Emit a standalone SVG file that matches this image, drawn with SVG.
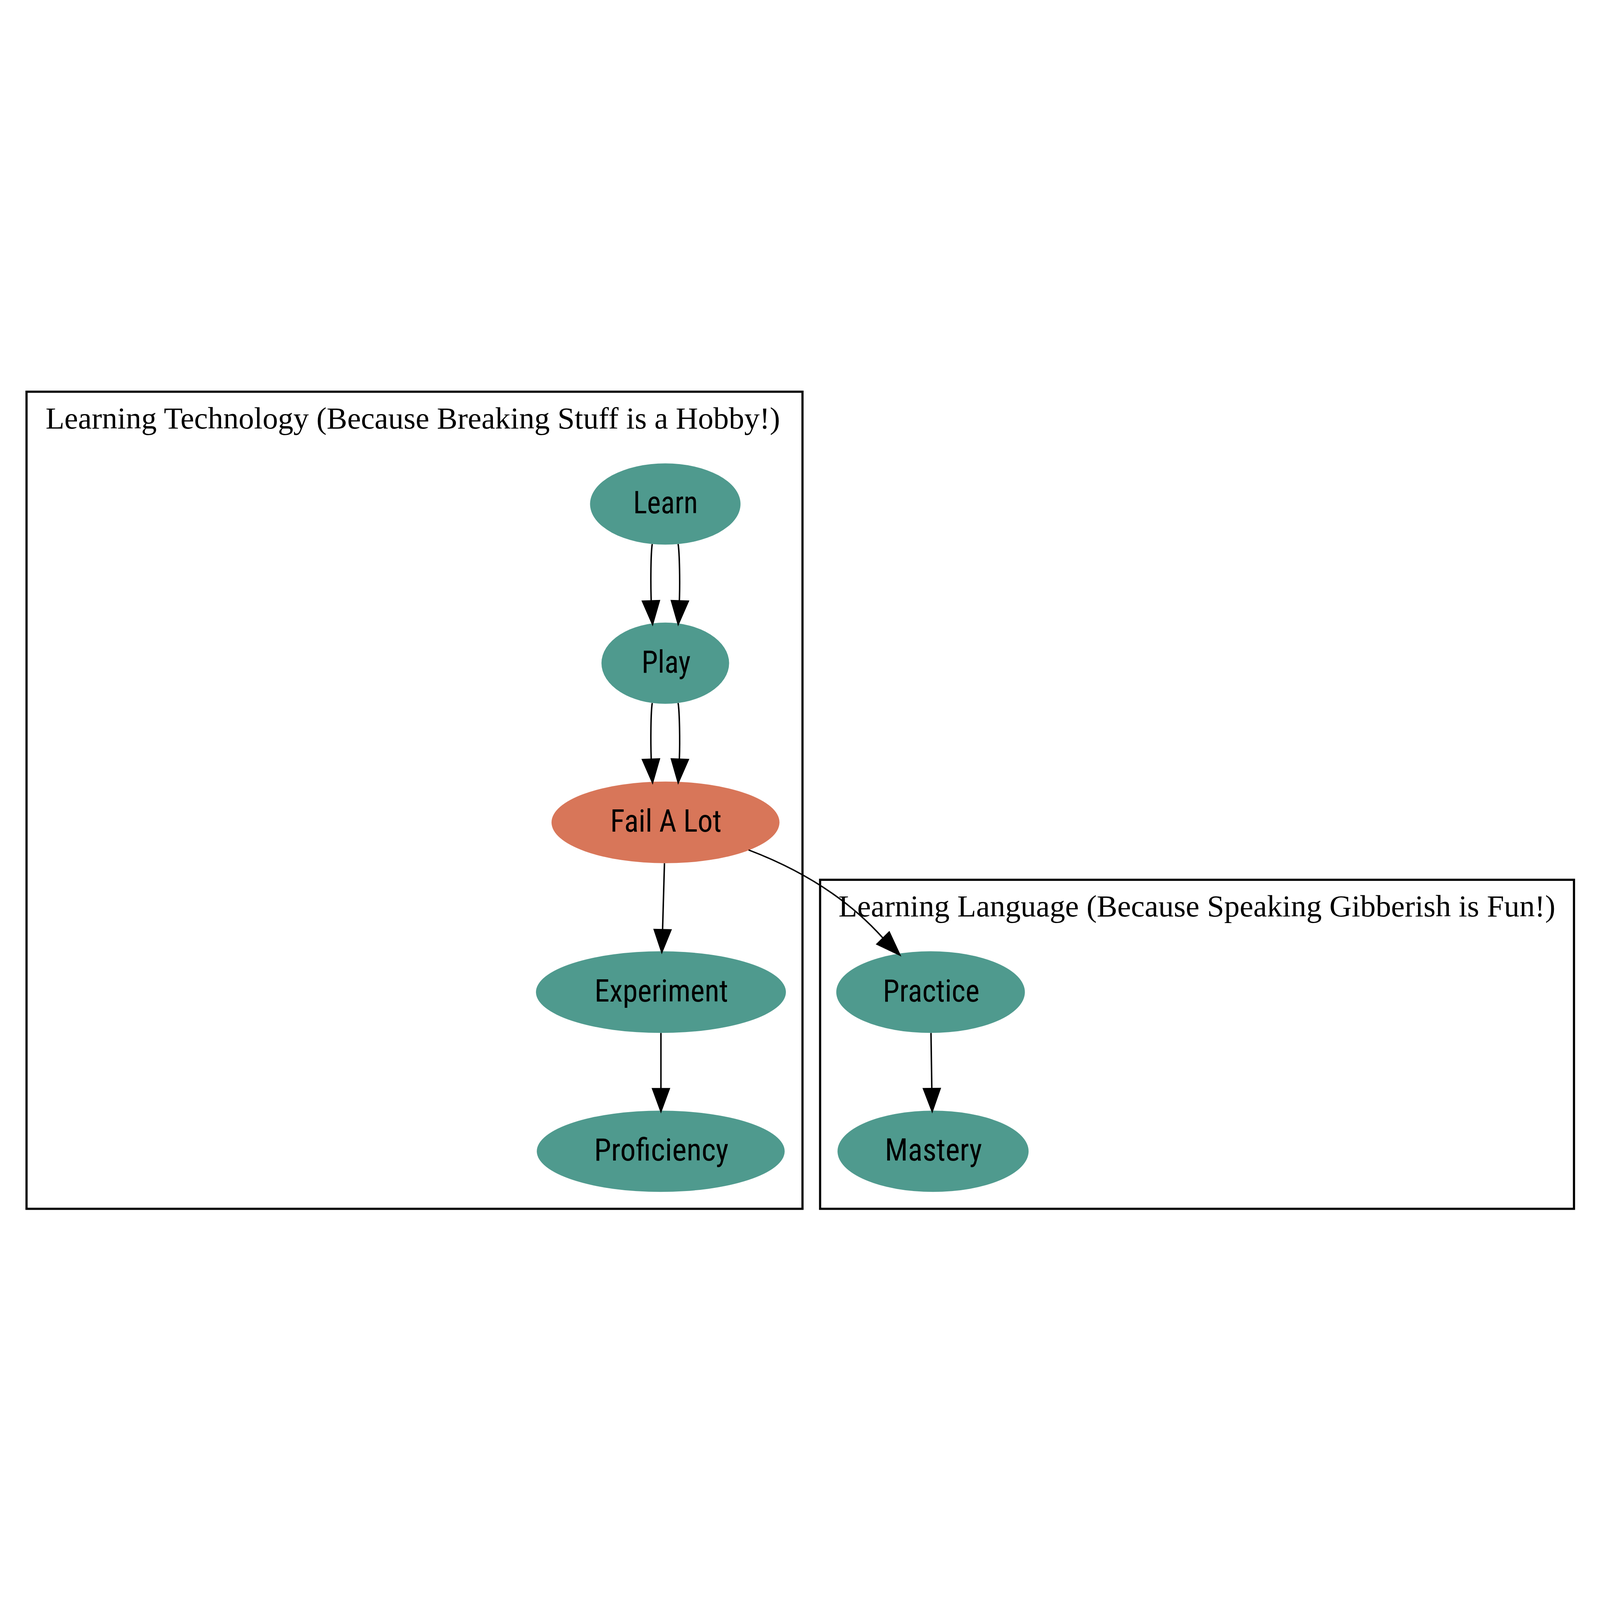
<svg xmlns="http://www.w3.org/2000/svg" width="7720" height="4200" viewBox="0 0 7720 4200" style="width:100%;height:100%">
<style>
.bg{fill:#ffffff}
.cluster{fill:none;stroke:#000;stroke-width:10.5}
.ctitle{font-family:"Liberation Serif","Times New Roman",serif;font-size:148px;fill:#000;text-anchor:middle}
.teal{fill:#4f9a8e;stroke:none}
.orange{fill:#d87659;stroke:none}
.nlabel{font-family:"Roboto Condensed","Liberation Sans Narrow",Roboto,"Liberation Sans",sans-serif;font-size:150px;fill:#000;text-anchor:middle}
.edge{fill:none;stroke:#000;stroke-width:7}
.head{fill:#000;stroke:#000;stroke-width:3;stroke-linejoin:miter}
</style>
<rect class="bg" x="0" y="0" width="7720" height="4200"/>
<g id="cluster_tech">
<rect class="cluster" x="128" y="130" width="3744" height="3942.5"/>
<text class="ctitle" x="1992" y="307" textLength="3544" lengthAdjust="spacingAndGlyphs">Learning Technology (Because Breaking Stuff is a Hobby!)</text>
</g>
<g id="cluster_lang">
<rect class="cluster" x="3957" y="2485" width="3637.5" height="1587.5"/>
<text class="ctitle" x="5775" y="2662" textLength="3459" lengthAdjust="spacingAndGlyphs">Learning Language (Because Speaking Gibberish is Fun!)</text>
</g>
<g id="node_learn">
<ellipse class="teal" cx="3210" cy="672" rx="363" ry="196"/>
<text class="nlabel" x="3211" y="717" textLength="312" lengthAdjust="spacingAndGlyphs">Learn</text>
</g>
<g id="node_play">
<ellipse class="teal" cx="3210" cy="1440" rx="308" ry="196"/>
<text class="nlabel" x="3214" y="1485" textLength="237" lengthAdjust="spacingAndGlyphs">Play</text>
</g>
<g id="node_fail">
<ellipse class="orange" cx="3211" cy="2208" rx="550" ry="197"/>
<text class="nlabel" x="3213" y="2253" textLength="537" lengthAdjust="spacingAndGlyphs">Fail A Lot</text>
</g>
<g id="node_experiment">
<ellipse class="teal" cx="3189" cy="3027" rx="603" ry="197"/>
<text class="nlabel" x="3191" y="3072" textLength="645" lengthAdjust="spacingAndGlyphs">Experiment</text>
</g>
<g id="node_proficiency">
<ellipse class="teal" cx="3188" cy="3795" rx="598" ry="196"/>
<text class="nlabel" x="3191" y="3840" textLength="649" lengthAdjust="spacingAndGlyphs">Proficiency</text>
</g>
<g id="node_practice">
<ellipse class="teal" cx="4490" cy="3027" rx="455" ry="197"/>
<text class="nlabel" x="4493" y="3072" textLength="466" lengthAdjust="spacingAndGlyphs">Practice</text>
</g>
<g id="node_mastery">
<ellipse class="teal" cx="4502" cy="3795" rx="461" ry="196"/>
<text class="nlabel" x="4504" y="3840" textLength="469" lengthAdjust="spacingAndGlyphs">Mastery</text>
</g>
<g id="edges">
<g id="edge_learn_play_1">
<path class="edge" d="M3147,865 C3140,910 3139,1050 3142,1137"/>
<polygon class="head" points="3097,1139 3184,1136 3149,1258"/>
</g>
<g id="edge_learn_play_2">
<path class="edge" d="M3272,865 C3279,910 3281,1050 3278,1137"/>
<polygon class="head" points="3237,1136 3324,1139 3272,1258"/>
</g>
<g id="edge_play_fail_1">
<path class="edge" d="M3147,1632 C3140,1677 3139,1815 3142,1901"/>
<polygon class="head" points="3097,1903 3184,1900 3149,2022"/>
</g>
<g id="edge_play_fail_2">
<path class="edge" d="M3272,1632 C3279,1677 3281,1815 3278,1901"/>
<polygon class="head" points="3237,1900 3324,1903 3272,2022"/>
</g>
<g id="edge_fail_experiment">
<path class="edge" d="M3206,2405 C3203,2510 3200,2620 3197,2724"/>
<polygon class="head" points="3154,2723 3240,2725 3193,2840"/>
</g>
<g id="edge_experiment_proficiency">
<path class="edge" d="M3189,3224 L3189,3491"/>
<polygon class="head" points="3146,3491 3232,3491 3189,3608"/>
</g>
<g id="edge_practice_mastery">
<path class="edge" d="M4492,3224 L4496,3491"/>
<polygon class="head" points="4453,3491 4539,3490 4498,3608"/>
</g>
<g id="edge_fail_practice">
<path class="edge" d="M3612,2341 C3854,2433 4084,2569 4260,2766"/>
<polygon class="head" points="4228,2796 4291,2734 4346,2852"/>
</g>
</g>
</svg>
